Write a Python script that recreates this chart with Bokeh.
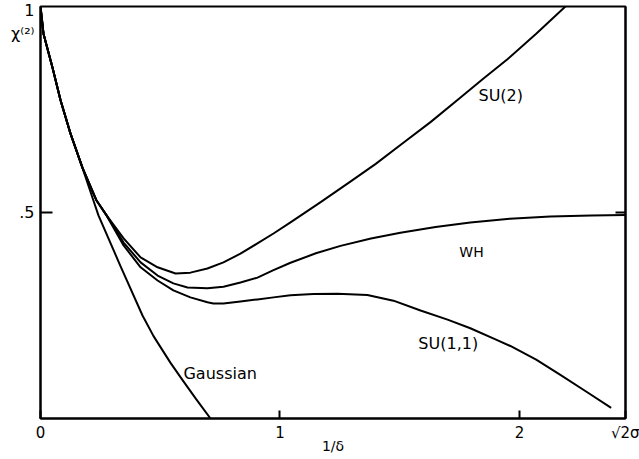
from bokeh.plotting import figure
from bokeh.models import Range1d, FixedTicker, LinearAxis, Label
from bokeh.embed import file_html
from bokeh.resources import INLINE

X_END = 2.443

GAUSS_X = [0.000, 0.0125, 0.050, 0.084, 0.125, 0.175, 0.221, 0.242, 0.334, 0.426, 0.472, 0.543, 0.597,
           0.650, 0.710]
GAUSS_Y = [1.000, 0.934, 0.852, 0.772, 0.692, 0.609, 0.529, 0.493, 0.370, 0.250, 0.200, 0.135, 0.090,
           0.047, 0.000]

SU2_X = [0.000, 0.0125, 0.050, 0.084, 0.125, 0.175, 0.234, 0.276, 0.347, 0.418, 0.489, 0.564, 0.626,
         0.697, 0.764, 0.835, 0.906, 0.973, 1.044, 1.170, 1.294, 1.400, 1.503, 1.630, 1.754, 1.850,
         1.950, 2.070, 2.192]
SU2_Y = [1.000, 0.934, 0.852, 0.772, 0.692, 0.609, 0.529, 0.493, 0.437, 0.391, 0.367, 0.352, 0.354,
         0.364, 0.379, 0.400, 0.425, 0.449, 0.476, 0.525, 0.575, 0.618, 0.664, 0.720, 0.779, 0.825,
         0.872, 0.934, 1.000]

WH_X = [0.000, 0.0125, 0.050, 0.084, 0.125, 0.175, 0.234, 0.276, 0.347, 0.418, 0.489, 0.555, 0.614,
        0.697, 0.764, 0.835, 0.906, 0.973, 1.044, 1.150, 1.253, 1.380, 1.503, 1.650, 1.795, 1.960,
        2.129, 2.300, 2.443]
WH_Y = [1.000, 0.934, 0.852, 0.772, 0.692, 0.609, 0.529, 0.493, 0.427, 0.379, 0.347, 0.328, 0.318,
        0.316, 0.320, 0.330, 0.342, 0.360, 0.378, 0.401, 0.419, 0.437, 0.451, 0.465, 0.476, 0.485,
        0.490, 0.493, 0.494]

SU11_X = [0.000, 0.0125, 0.050, 0.084, 0.125, 0.175, 0.234, 0.276, 0.347, 0.418, 0.489, 0.555, 0.626,
          0.697, 0.722, 0.764, 0.835, 0.906, 0.973, 1.044, 1.140, 1.240, 1.365, 1.474, 1.587, 1.700,
          1.795, 1.900, 1.962, 2.070, 2.171, 2.280, 2.380]
SU11_Y = [1.000, 0.934, 0.852, 0.772, 0.692, 0.609, 0.529, 0.493, 0.420, 0.367, 0.335, 0.311, 0.294,
          0.282, 0.279, 0.279, 0.284, 0.289, 0.294, 0.299, 0.302, 0.303, 0.300, 0.286, 0.262, 0.240,
          0.219, 0.192, 0.176, 0.143, 0.106, 0.065, 0.027]

X_TICKS = [0, 1, 2, X_END]
X_TICK_LABELS = ["0", "1", "2", "√2σ"]
Y_TICKS = [0.5]
Y_LABEL_TICKS = [0.5, 0.934, 1.0]
Y_LABELS = [".5", "χ⁽²⁾", "1"]

FONT = "DejaVu Sans"

p = figure(frame_width=585, frame_height=412,
           min_border_left=40, min_border_right=14, min_border_top=6, min_border_bottom=40,
           x_range=Range1d(0, X_END), y_range=Range1d(0, 1),
           output_backend="svg", toolbar_location=None)
p.xgrid.visible = False
p.ygrid.visible = False
p.outline_line_color = "black"
p.outline_line_width = 2
p.outline_line_alpha = 1
p.background_fill_color = "white"
p.border_fill_color = "white"

xa = p.xaxis[0]
xa.ticker = FixedTicker(ticks=X_TICKS)
xa.major_label_overrides = {t: l for t, l in zip(X_TICKS, X_TICK_LABELS)}
xa.major_tick_in = 8
xa.major_tick_out = 0
xa.minor_tick_line_color = None
xa.axis_line_width = 2
xa.major_tick_line_width = 2
xa.major_label_text_font = FONT
xa.major_label_text_font_size = "15px"
xa.major_label_text_color = "black"
xa.major_label_standoff = 5
xa.axis_label = "1/δ"
xa.axis_label_text_font = FONT
xa.axis_label_text_font_size = "14px"
xa.axis_label_text_font_style = "normal"
xa.axis_label_text_color = "black"
xa.axis_label_standoff = -7

# left axis: only the frame line and the inward tick at .5
ya = p.yaxis[0]
ya.ticker = FixedTicker(ticks=Y_TICKS)
ya.major_label_overrides = {0.5: ""}
ya.major_tick_in = 12
ya.major_tick_out = 0
ya.minor_tick_line_color = None
ya.axis_line_width = 2
ya.major_tick_line_width = 2
ya.major_label_standoff = 0
ya.major_label_text_font_size = "1px"

# left labels axis (no lines): ".5", the chi caption and "1"
la = LinearAxis(ticker=FixedTicker(ticks=Y_LABEL_TICKS),
                major_label_overrides={t: l for t, l in zip(Y_LABEL_TICKS, Y_LABELS)},
                axis_line_color=None, major_tick_line_color=None, minor_tick_line_color=None,
                major_tick_in=0, major_tick_out=0, major_label_standoff=6,
                major_label_text_font=FONT, major_label_text_font_size="16px",
                major_label_text_color="black")
p.add_layout(la, "left")

ra = LinearAxis(ticker=FixedTicker(ticks=Y_TICKS), major_label_overrides={0.5: ""},
                major_tick_in=10, major_tick_out=0, minor_tick_line_color=None,
                axis_line_width=2, major_tick_line_width=2, major_label_standoff=0,
                major_label_text_font_size="1px")
p.add_layout(ra, "right")

for xs, ys in [(GAUSS_X, GAUSS_Y), (SU2_X, SU2_Y), (WH_X, WH_Y), (SU11_X, SU11_Y)]:
    p.line(xs, ys, line_color="black", line_width=2, line_join="round", line_cap="round")

def lab(x, y, t, size, **kw):
    p.add_layout(Label(x=x, y=y, text=t, text_font=FONT, text_font_size=size,
                       text_color="black", **kw))

lab(1.829, 0.785, "SU(2)", "16px", text_baseline="middle")
lab(1.749, 0.403, "WH", "14px", text_baseline="middle")
lab(1.578, 0.182, "SU(1,1)", "16px", text_baseline="middle")
lab(0.597, 0.110, "Gaussian", "16px", text_baseline="middle")

open("out.html", "w").write(file_html(p, INLINE))
